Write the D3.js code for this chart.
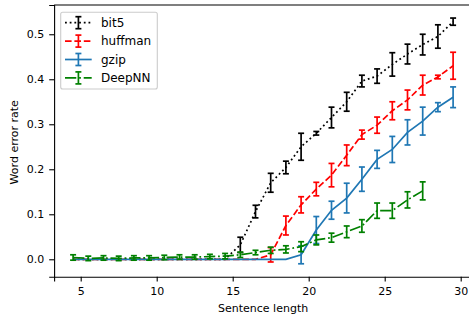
<!DOCTYPE html>
<html>
<head>
<meta charset="utf-8">
<script src="https://cdn.jsdelivr.net/npm/d3@7"></script>
<style>
  body { margin: 0; background: #fff; }
  text { font-family: "DejaVu Sans", sans-serif; }
</style>
</head>
<body>
<svg id="chart" width="469" height="318"></svg>
<script>
// sentence lengths (x)
var lengths = [4.5,5.5,6.5,7.5,8.5,9.5,10.5,11.5,12.5,13.5,14.5,15.5,16.5,17.5,18.5,19.5,20.5,21.5,22.5,23.5,24.5,25.5,26.5,27.5,28.5,29.5];

var bit5 = [0,0,0,0,0,0,0,0,0,0,0, 0.032,0.106,0.17,0.204,0.25,0.28,0.315,0.35,0.396,0.407,0.433,0.456,0.477,0.495,0.528];
var bit5Err = [0,0,0,0,0,0,0,0,0,0,0, 0.017,0.014,0.021,0.014,0.03,0.004,0.023,0.021,0.013,0.016,0.026,0.022,0.023,0.026,0.008];

var huffman = [0,0,0,0,0,0,0,0,0,0,0,0,0, 0.01,0.075,0.121,0.156,0.187,0.231,0.277,0.298,0.33,0.354,0.387,0.405,0.43];
var huffmanErr = [0,0,0,0,0,0,0,0,0,0,0,0,0, 0.016,0.021,0.018,0.015,0.026,0.023,0.01,0.018,0.02,0.022,0.022,0.004,0.03];

var gzip = [0,0,0,0,0,0,0,0,0,0,0,0,0,0,0, 0.01,0.065,0.109,0.136,0.178,0.222,0.244,0.282,0.307,0.338,0.36];
var gzipErr = [0,0,0,0,0,0,0,0,0,0,0,0,0,0,0, 0.02,0.03,0.02,0.033,0.027,0.02,0.029,0.028,0.031,0.01,0.023];

var deepnn = [0.004,0.002,0.003,0.002,0.003,0.003,0.004,0.005,0.005,0.006,0.007, 0.01,0.015,0.02,0.022,0.028,0.043,0.048,0.061,0.074,0.108,0.108,0.132,0.152];
var deepnnErr = [0.006,0.005,0.005,0.005,0.005,0.005,0.005,0.005,0.005,0.005,0.006, 0.006,0.005,0.007,0.008,0.011,0.011,0.01,0.013,0.014,0.017,0.017,0.018,0.02];

var xTicks = [5, 10, 15, 20, 25, 30];
var yTicks = [0, 0.1, 0.2, 0.3, 0.4, 0.5];

var lw = 1.7;
var series = [
  {name: "bit5", y: bit5, err: bit5Err, color: "#000000", dash: "1.8,2.9"},
  {name: "huffman", y: huffman, err: huffmanErr, color: "#ff0000", dash: "6.6,2.8"},
  {name: "gzip", y: gzip, err: gzipErr, color: "#1f77b4", dash: null},
  {name: "DeepNN", y: deepnn, err: deepnnErr, color: "#008000", dash: "11.3,2.8,1.8,2.8"}
];

var svg = d3.select("#chart");

var x = d3.scaleLinear().domain([3.25, 30.75]).range([54.1, 472.1]);
var y = d3.scaleLinear().domain([-0.0387, 0.565]).range([276.7, 5]);

var line = d3.line()
  .x(function (d) { return x(d.x); })
  .y(function (d) { return y(d.y); });

var cap = 3;

series.forEach(function (s) {
  var pts = s.y.map(function (v, i) { return {x: lengths[i], y: v, e: s.err[i]}; });
  var g = svg.append("g");

  g.append("path")
    .attr("d", line(pts))
    .attr("fill", "none")
    .attr("stroke", s.color)
    .attr("stroke-width", lw)
    .attr("stroke-dasharray", s.dash);

  var bars = g.selectAll(".eb").data(pts.filter(function (d) { return d.e > 0; }))
    .enter().append("g");
  bars.append("line")
    .attr("x1", function (d) { return x(d.x); })
    .attr("x2", function (d) { return x(d.x); })
    .attr("y1", function (d) { return y(d.y - d.e); })
    .attr("y2", function (d) { return y(d.y + d.e); })
    .attr("stroke", s.color).attr("stroke-width", lw);
  [-1, 1].forEach(function (sign) {
    bars.append("line")
      .attr("x1", function (d) { return x(d.x) - cap; })
      .attr("x2", function (d) { return x(d.x) + cap; })
      .attr("y1", function (d) { return y(d.y + sign * d.e); })
      .attr("y2", function (d) { return y(d.y + sign * d.e); })
      .attr("stroke", s.color).attr("stroke-width", lw);
  });
});

// axes
var xAxis = svg.append("g")
  .attr("transform", "translate(0," + 276.7 + ")")
  .call(d3.axisBottom(x).tickValues(xTicks).tickSize(4.9).tickPadding(5.5).tickFormat(d3.format("d")));
var yAxis = svg.append("g")
  .attr("transform", "translate(54.1,0)")
  .call(d3.axisLeft(y).tickValues(yTicks).tickSize(4.9).tickPadding(4.9).tickFormat(d3.format(".1f")));

[xAxis, yAxis].forEach(function (a) {
  a.selectAll("text").attr("font-size", 11).attr("font-family", "DejaVu Sans").attr("fill", "#000");
  a.selectAll("line").attr("stroke", "#000").attr("stroke-width", 1.1);
  a.select(".domain").attr("stroke", "#000").attr("stroke-width", 1.1);
});

// top and right spines
svg.append("line").attr("x1", 54.1).attr("x2", 472.1).attr("y1", 5).attr("y2", 5)
  .attr("stroke", "#000").attr("stroke-width", 1.1);
svg.append("line").attr("x1", 472.1).attr("x2", 472.1).attr("y1", 5).attr("y2", 276.7)
  .attr("stroke", "#000").attr("stroke-width", 1.1);

// axis titles
svg.append("text")
  .attr("x", x(17)).attr("y", 312)
  .attr("text-anchor", "middle")
  .attr("font-size", 11)
  .text("Sentence length");
svg.append("text")
  .attr("transform", "translate(18.3," + y(0.26) + ") rotate(-90)")
  .attr("text-anchor", "middle")
  .attr("font-size", 11)
  .text("Word error rate");

// legend
var leg = svg.append("g").attr("transform", "translate(60.7,12.3)");
leg.append("rect")
  .attr("width", 96.6).attr("height", 76.7).attr("rx", 2)
  .attr("fill", "#fff").attr("fill-opacity", 0.8)
  .attr("stroke", "#ccc").attr("stroke-width", 1.1);
series.forEach(function (s, i) {
  var cy = 10.4 + i * 18.4;
  var row = leg.append("g").attr("transform", "translate(0," + cy + ")");
  row.append("line").attr("x1", 4.3).attr("x2", 31).attr("y1", 0).attr("y2", 0)
    .attr("stroke", s.color).attr("stroke-width", lw).attr("stroke-dasharray", s.dash);
  row.append("line").attr("x1", 17.7).attr("x2", 17.7).attr("y1", -6).attr("y2", 6)
    .attr("stroke", s.color).attr("stroke-width", lw);
  [-6, 6].forEach(function (dy) {
    row.append("line").attr("x1", 17.7 - cap).attr("x2", 17.7 + cap).attr("y1", dy).attr("y2", dy)
      .attr("stroke", s.color).attr("stroke-width", lw);
  });
  row.append("text").attr("x", 40.3).attr("y", 4.3)
    .attr("font-size", 12).text(s.name);
});
</script>
</body>
</html>
